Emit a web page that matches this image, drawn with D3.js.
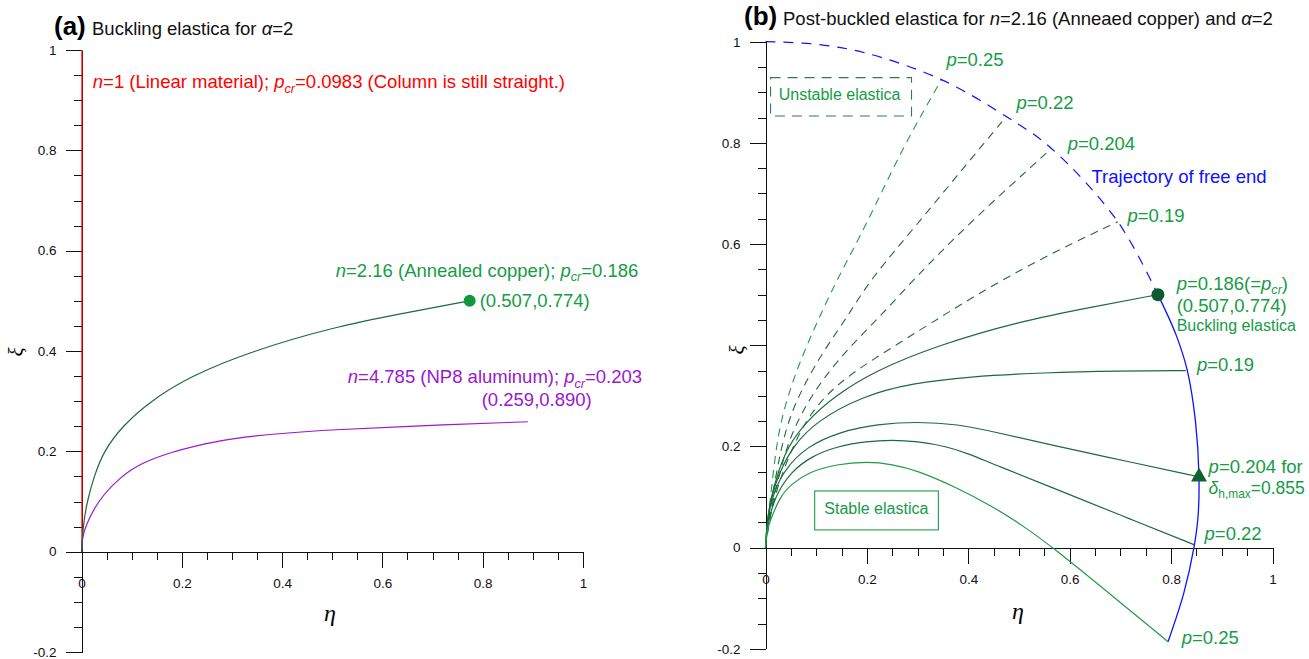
<!DOCTYPE html>
<html>
<head>
<meta charset="utf-8">
<script src="https://cdn.jsdelivr.net/npm/d3@7"></script>
<style>
  body { margin: 0; background: #fff; }
  svg text { font-family: "Liberation Sans", Arial, sans-serif; }
</style>
</head>
<body>
<div id="chart"></div>
<script>
// ---- data, points are [eta, xi] ----
const majorTicksX = [0, 0.2, 0.4, 0.6, 0.8, 1];
const majorTicksY = [-0.2, 0, 0.2, 0.4, 0.6, 0.8, 1];

// panel (a)
const linearColumn = [[0, 0], [0, 1]];
const copperCurve = [[0,0],[0.003,0.05],[0.011,0.1],[0.025,0.15],[0.044,0.2],[0.081,0.25],[0.137,0.3],
  [0.217,0.35],[0.34,0.4],[0.5,0.447],[0.64,0.475],[0.774,0.5]];
const aluminumCurve = [[0,0],[0.002,0.03],[0.008,0.05],[0.031,0.1],[0.078,0.15],[0.12,0.177],[0.18,0.199],
  [0.25,0.216],[0.3,0.226],[0.4,0.236],[0.5,0.243],[0.65,0.25],[0.89,0.259]];

// panel (b) stable (solid) elastica
const stable019 = [[0,0],[0.003,0.05],[0.011,0.1],[0.028,0.15],[0.054,0.2],[0.1,0.25],[0.192,0.3],
  [0.29,0.325],[0.4,0.338],[0.55,0.346],[0.7,0.349],[0.829,0.35]];
const stable0204 = [[0,0],[0.003,0.05],[0.013,0.1],[0.034,0.15],[0.08,0.2],[0.15,0.23],[0.22,0.244],
  [0.3,0.249],[0.38,0.244],[0.45,0.229],[0.58,0.199],[0.72,0.169],[0.855,0.14]];
const stable022 = [[0,0],[0.005,0.05],[0.018,0.1],[0.05,0.15],[0.09,0.18],[0.14,0.2],[0.2,0.21],
  [0.248,0.213],[0.3,0.21],[0.357,0.2],[0.4,0.186],[0.449,0.165],[0.6,0.105],[0.72,0.056],[0.845,0.006]];
const stable025 = [[0,0],[0.002,0.03],[0.008,0.05],[0.028,0.1],[0.05,0.125],[0.087,0.15],[0.14,0.165],
  [0.2,0.17],[0.25,0.165],[0.3,0.152],[0.37,0.122],[0.449,0.081],[0.51,0.042],[0.567,0],
  [0.68,-0.092],[0.794,-0.186]];

// panel (b) unstable (dashed) elastica
const unstable025 = [[0,0],[0.004,0.05],[0.01,0.1],[0.021,0.2],[0.034,0.265],[0.054,0.33],[0.08,0.397],
  [0.11,0.463],[0.14,0.528],[0.2,0.64],[0.27,0.79],[0.347,0.925]];
const unstable022 = [[0,0],[0.005,0.05],[0.013,0.1],[0.031,0.2],[0.05,0.265],[0.08,0.33],[0.12,0.397],
  [0.166,0.463],[0.205,0.528],[0.3,0.64],[0.39,0.75],[0.475,0.852]];
const unstable0204 = [[0,0],[0.006,0.05],[0.016,0.1],[0.041,0.2],[0.07,0.265],[0.11,0.33],[0.166,0.397],
  [0.232,0.463],[0.29,0.528],[0.4,0.64],[0.564,0.789]];
const unstable019 = [[0,0],[0.01,0.07],[0.028,0.134],[0.054,0.2],[0.087,0.265],[0.146,0.33],[0.252,0.397],
  [0.357,0.463],[0.45,0.52],[0.58,0.59],[0.695,0.644]];

// trajectory of the free end
const trajectoryUnstable = [[0,1],[0.1,0.995],[0.2,0.977],[0.347,0.925],[0.475,0.852],[0.564,0.789],
  [0.695,0.644],[0.774,0.5]];
const trajectoryStable = [[0.774,0.5],[0.81,0.42],[0.832,0.35],[0.848,0.25],[0.855,0.14],[0.853,0.06],
  [0.845,0.0],[0.825,-0.09],[0.794,-0.186]];

const bucklingPoint = [0.774, 0.5];
const maxDeflectionPoint = [0.855, 0.14];

// ---- drawing ----
const W = 1309, H = 659;
const svg = d3.select("#chart").append("svg").attr("width", W).attr("height", H);

const GREEN_TXT = "#159c45", DARK = "#1d6a3e", BRIGHT = "#1f9d45";
const FS = 18.5;

const xA = d3.scaleLinear().domain([0, 1]).range([81.5, 583]);
const yA = d3.scaleLinear().domain([-0.2, 1]).range([652, 50]);
const xB = d3.scaleLinear().domain([0, 1]).range([765.5, 1272.5]);
const yB = d3.scaleLinear().domain([-0.2, 1]).range([648.8, 41.7]);

const smooth = (x, y) => d3.line()
  .x(d => x(d[0])).y(d => y(d[1]))
  .curve(d3.curveBasis);
const spline = (x, y) => d3.line()
  .x(d => x(d[0])).y(d => y(d[1]))
  .curve(d3.curveCatmullRom.alpha(0.5));

function drawAxes(g, x, y, hideY) {
  const minorX = d3.range(0, 1.001, 0.05);
  const minorY = d3.range(-0.2, 1.001, 0.05);
  const fmtX = d => String(d);
  const fmtY = d => (hideY.includes(d) ? "" : String(d));
  const style = sel => {
    sel.selectAll("path,line").attr("stroke", "#111").attr("stroke-width", 1)
      .attr("shape-rendering", "crispEdges");
    sel.selectAll("text").style("font-size", "13.5px").attr("fill", "#111")
      .style("font-family", "'Liberation Sans', Arial, sans-serif");
  };
  g.append("g").attr("transform", `translate(0,${y(0)})`)
    .call(d3.axisBottom(x).tickValues(minorX).tickSize(8).tickSizeOuter(0).tickFormat(() => ""))
    .call(style);
  g.append("g").attr("transform", `translate(0,${y(0)})`)
    .call(d3.axisBottom(x).tickValues(majorTicksX).tickSize(16).tickSizeOuter(0).tickPadding(11).tickFormat(fmtX))
    .call(style);
  g.append("g").attr("transform", `translate(${x(0)},0)`)
    .call(d3.axisLeft(y).tickValues(minorY).tickSize(8).tickSizeOuter(0).tickFormat(() => ""))
    .call(style);
  g.append("g").attr("transform", `translate(${x(0)},0)`)
    .call(d3.axisLeft(y).tickValues(majorTicksY).tickSize(16).tickSizeOuter(0).tickPadding(9).tickFormat(fmtY))
    .call(style);
}

// rich text: parts = [[text, flag]] with flag "i" italic, "s" italic subscript, "u" upright subscript
function rich(g, x, y, parts, color, size) {
  const t = g.append("text").attr("x", x).attr("y", y).attr("fill", color).style("font-size", size + "px");
  let wasSub = false;
  parts.forEach(([txt, flag]) => {
    const s = t.append("tspan").text(txt);
    if (flag === "i" || flag === "s") s.style("font-style", "italic");
    if (flag === "s" || flag === "u") {
      s.attr("dy", wasSub ? 0 : size * 0.25).style("font-size", (size * 0.68) + "px");
      wasSub = true;
    } else if (wasSub) {
      s.attr("dy", -size * 0.25);
      wasSub = false;
    }
  });
  return t;
}

function axisTitles(g, xpos, ypos) {
  g.append("text").attr("x", xpos[0]).attr("y", xpos[1]).attr("text-anchor", "middle")
    .style("font-family", "'Liberation Serif', 'DejaVu Serif', serif").style("font-style", "italic")
    .style("font-size", "24px").text("η");
  g.append("text").attr("transform", `translate(${ypos[0]},${ypos[1]}) rotate(-90)`).attr("text-anchor", "middle")
    .style("font-family", "'Liberation Serif', 'DejaVu Serif', serif").style("font-style", "italic")
    .style("font-size", "21px").text("ξ");
}

// ================= panel (a) =================
const ga = svg.append("g");
drawAxes(ga, xA, yA, []);
axisTitles(ga, [330, 621], [23, 352]);

const la = smooth(xA, yA);
ga.append("path").attr("d", spline(xA, yA)(linearColumn)).attr("transform", "translate(0.5,0)")
  .attr("stroke", "#ff0000").attr("stroke-width", 1.3).attr("fill", "none");
ga.append("path").attr("d", la(aluminumCurve)).attr("stroke", "#9a17cf").attr("stroke-width", 1.2).attr("fill", "none");
ga.append("path").attr("d", la(copperCurve)).attr("stroke", DARK).attr("stroke-width", 1.2).attr("fill", "none");
ga.append("circle").attr("cx", xA(copperCurve[copperCurve.length - 1][0])).attr("cy", yA(copperCurve[copperCurve.length - 1][1]))
  .attr("r", 6).attr("fill", "#0e9a3c");

ga.append("text").attr("x", 54).attr("y", 35).style("font-size", "26px").style("font-weight", "bold").text("(a)");
rich(ga, 92, 35, [["Buckling elastica for "], ["α", "i"], ["=2"]], "#111", FS);
rich(ga, xA(0.0225), yA(0.924), [["n", "i"], ["=1 (Linear material); "], ["p", "i"], ["cr", "s"],
  ["=0.0983 (Column is still straight.)"]], "#ff0000", FS);
rich(ga, xA(0.507), yA(0.548), [["n", "i"], ["=2.16 (Annealed copper); "], ["p", "i"], ["cr", "s"], ["=0.186"]], GREEN_TXT, FS);
rich(ga, xA(0.794), yA(0.488), [["(0.507,0.774)"]], GREEN_TXT, FS);
rich(ga, xA(0.531), yA(0.336), [["n", "i"], ["=4.785 (NP8 aluminum); "], ["p", "i"], ["cr", "s"], ["=0.203"]], "#9a17cf", FS);
rich(ga, xA(0.798), yA(0.29), [["(0.259,0.890)"]], "#9a17cf", FS);

// ================= panel (b) =================
const gb = svg.append("g");
drawAxes(gb, xB, yB, [0.4]);
axisTitles(gb, [1018, 619], [744, 350]);

const lb = smooth(xB, yB);
const dashed = [
  [unstable019, DARK], [unstable0204, DARK], [unstable022, DARK], [unstable025, BRIGHT]
];
dashed.forEach(([pts, c]) => {
  gb.append("path").attr("d", lb(pts)).attr("stroke", c).attr("stroke-width", 1.1)
    .attr("stroke-dasharray", "8,6").attr("fill", "none");
});
const solid = [
  [copperCurve, DARK], [stable019, DARK], [stable0204, DARK], [stable022, DARK], [stable025, BRIGHT]
];
solid.forEach(([pts, c]) => {
  gb.append("path").attr("d", lb(pts)).attr("stroke", c).attr("stroke-width", 1.2).attr("fill", "none");
});
const tb = spline(xB, yB);
gb.append("path").attr("d", tb(trajectoryUnstable)).attr("stroke", "#1010ff").attr("stroke-width", 1.2)
  .attr("stroke-dasharray", "10,8").attr("fill", "none");
gb.append("path").attr("d", tb(trajectoryStable)).attr("stroke", "#1010ff").attr("stroke-width", 1.3).attr("fill", "none");

gb.append("circle").attr("cx", xB(bucklingPoint[0])).attr("cy", yB(bucklingPoint[1])).attr("r", 6.5).attr("fill", "#0c5a2e");
gb.append("path").attr("d", d3.symbol(d3.symbolTriangle, 110)())
  .attr("transform", `translate(${xB(maxDeflectionPoint[0])},${yB(maxDeflectionPoint[1])})`).attr("fill", "#12602f");

// boxes
gb.append("rect").attr("x", xB(0.01)).attr("y", yB(0.929)).attr("width", xB(0.288) - xB(0.01))
  .attr("height", yB(0.853) - yB(0.929)).attr("fill", "none").attr("stroke", "#2e7d52")
  .attr("stroke-width", 1.1).attr("stroke-dasharray", "10,7");
rich(gb, xB(0.026), yB(0.885), [["Unstable elastica"]], GREEN_TXT, 16);
gb.append("rect").attr("x", xB(0.097)).attr("y", yB(0.112)).attr("width", xB(0.341) - xB(0.097))
  .attr("height", yB(0.035) - yB(0.112)).attr("fill", "none").attr("stroke", "#1c9e4a").attr("stroke-width", 1.1);
rich(gb, xB(0.116), yB(0.067), [["Stable elastica"]], GREEN_TXT, 16);

gb.append("text").attr("x", 744).attr("y", 25).style("font-size", "26px").style("font-weight", "bold").text("(b)");
rich(gb, 783, 25, [["Post-buckled elastica for "], ["n", "i"], ["=2.16 (Anneaed copper) and "], ["α", "i"], ["=2"]], "#111", FS);

const pLabel = (eta, xi, val) => rich(gb, xB(eta), yB(xi), [["p", "i"], ["=" + val]], GREEN_TXT, FS);
pLabel(0.357, 0.951, "0.25");
pLabel(0.495, 0.866, "0.22");
pLabel(0.596, 0.786, "0.204");
pLabel(0.714, 0.644, "0.19");
rich(gb, xB(0.643), yB(0.721), [["Trajectory of free end"]], "#1010ff", FS);
rich(gb, xB(0.811), yB(0.51), [["p", "i"], ["=0.186(="], ["p", "i"], ["cr", "s"], [")"]], GREEN_TXT, FS);
rich(gb, xB(0.811), yB(0.466), [["(0.507,0.774)"]], GREEN_TXT, FS);
rich(gb, xB(0.811), yB(0.429), [["Buckling elastica"]], GREEN_TXT, 16);
pLabel(0.851, 0.35, "0.19");
rich(gb, xB(0.874), yB(0.148), [["p", "i"], ["=0.204 for"]], GREEN_TXT, FS);
rich(gb, xB(0.874), yB(0.106), [["δ", "i"], ["h,max", "u"], ["=0.855"]], GREEN_TXT, 17.5);
pLabel(0.866, 0.015, "0.22");
pLabel(0.821, -0.19, "0.25");
</script>
</body>
</html>
